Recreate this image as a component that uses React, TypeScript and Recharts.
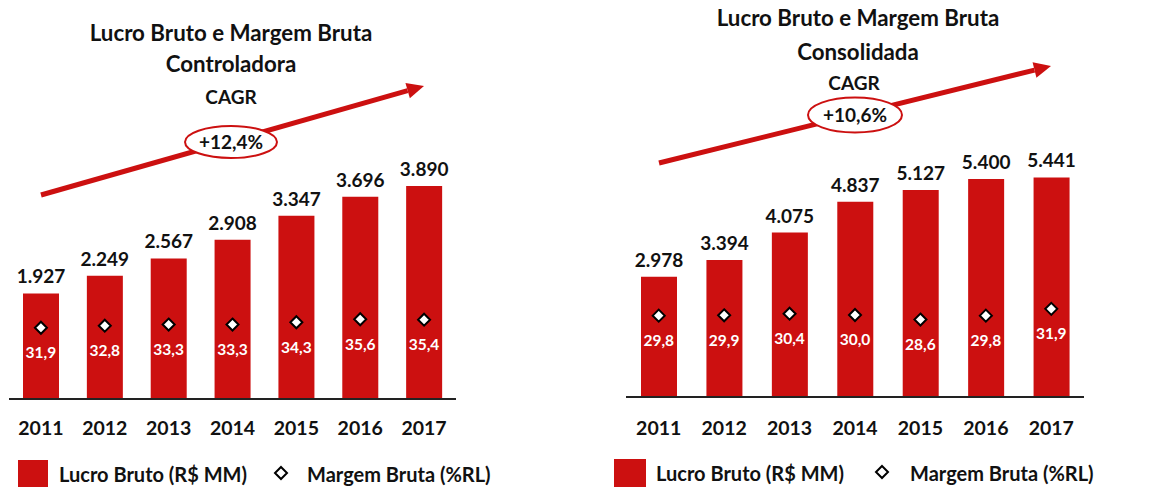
import React from "react";
import { ComposedChart, Bar, Line, XAxis, YAxis, LabelList } from "recharts";

const years = ["2011", "2012", "2013", "2014", "2015", "2016", "2017"];
const lucroControladora = [1927, 2249, 2567, 2908, 3347, 3696, 3890];
const margemControladora = [31.9, 32.8, 33.3, 33.3, 34.3, 35.6, 35.4];
const lucroConsolidada = [2978, 3394, 4075, 4837, 5127, 5400, 5441];
const margemConsolidada = [29.8, 29.9, 30.4, 30.0, 28.6, 29.8, 31.9];

const leftData = years.map((y, i) => ({ year: y, lucro: lucroControladora[i], margem: margemControladora[i] }));
const rightData = years.map((y, i) => ({ year: y, lucro: lucroConsolidada[i], margem: margemConsolidada[i] }));

const RED = "#CC1010";
const FONT = "Lato, 'Open Sans', sans-serif";

const fmtThousands = (v: number) => {
  const s = String(v);
  return s.length > 3 ? s.slice(0, s.length - 3) + "." + s.slice(s.length - 3) : s;
};
const fmtDec = (v: number) => v.toFixed(1).replace(".", ",");

const Diamond = (props: any) => {
  const { cx, cy } = props;
  if (cx == null || cy == null) return null;
  const r = 6;
  return (
    <polygon
      points={`${cx},${cy - r} ${cx + r},${cy} ${cx},${cy + r} ${cx - r},${cy}`}
      fill="#fff"
      stroke="#000"
      strokeWidth={2}
    />
  );
};

const MarginLabel = (props: any) => {
  const { x, y, value } = props;
  return (
    <text x={x} y={y + 25} dy="0.35em" textAnchor="middle" fill="#fff" fontFamily={FONT} fontWeight={700} fontSize={15.5}>
      {fmtDec(value)}
    </text>
  );
};

const YearTick = (props: any) => {
  const { x, y, payload } = props;
  return (
    <text x={x} y={y} dy="0.35em" textAnchor="middle" fill="#111" fontFamily={FONT} fontWeight={700} fontSize={19.5}>
      {payload.value}
    </text>
  );
};

type PanelProps = {
  data: any[];
  margin: any;
  barMax: number;
  marginDomain: [number, number];
  width: number;
  tickMargin: number;
};

const Panel = ({ data, margin, barMax, marginDomain, width, tickMargin }: PanelProps) => (
  <ComposedChart width={width} height={487} data={data} margin={margin}>
    <XAxis
      dataKey="year"
      height={40}
      axisLine={{ stroke: "#222", strokeWidth: 2 }}
      tickLine={false}
      tickSize={0}
      tickMargin={tickMargin}
      tick={<YearTick />}
      interval={0}
    />
    <YAxis yAxisId="bar" hide domain={[0, barMax]} />
    <YAxis yAxisId="m" hide domain={marginDomain} />
    <Bar yAxisId="bar" dataKey="lucro" fill={RED} barSize={36} isAnimationActive={false}>
      <LabelList
        dataKey="lucro"
        position="top"
        offset={10}
        formatter={(v: any) => fmtThousands(Number(v))}
        style={{ fill: "#111", fontFamily: FONT, fontWeight: 700, fontSize: 19 }}
      />
    </Bar>
    <Line
      yAxisId="m"
      dataKey="margem"
      stroke="none"
      strokeWidth={0}
      dot={<Diamond />}
      activeDot={false}
      isAnimationActive={false}
    >
      <LabelList dataKey="margem" content={<MarginLabel />} />
    </Line>
  </ComposedChart>
);

const ArrowAndTitle = ({
  from,
  tip,
  ellipse,
  pct,
  titleLines,
  titleX,
  titleYs,
  cagrX,
  cagrY,
}: any) => {
  const dx = tip[0] - from[0];
  const dy = tip[1] - from[1];
  const len = Math.sqrt(dx * dx + dy * dy);
  const ux = dx / len;
  const uy = dy / len;
  const hl = 17;
  const hw = 8;
  const bx = tip[0] - ux * hl;
  const by = tip[1] - uy * hl;
  const px = -uy;
  const py = ux;
  return (
    <g>
      {titleLines.map((t: string, i: number) => (
        <text key={i} x={titleX} y={titleYs[i]} dy="0.35em" textAnchor="middle" fill="#111" fontFamily={FONT} fontWeight={700} fontSize={22.3}>
          {t}
        </text>
      ))}
      <text x={cagrX} y={cagrY} dy="0.35em" textAnchor="middle" fill="#111" fontFamily={FONT} fontWeight={700} fontSize={19}>
        CAGR
      </text>
      <line x1={from[0]} y1={from[1]} x2={bx} y2={by} stroke={RED} strokeWidth={5} />
      <polygon
        points={`${tip[0]},${tip[1]} ${bx + px * hw},${by + py * hw} ${bx - px * hw},${by - py * hw}`}
        fill={RED}
      />
      <ellipse cx={ellipse[0]} cy={ellipse[1]} rx={ellipse[2]} ry={ellipse[3]} fill="#fff" stroke={RED} strokeWidth={2} />
      <text x={ellipse[0]} y={ellipse[1]} dy="0.35em" textAnchor="middle" fill="#111" fontFamily={FONT} fontWeight={700} fontSize={19}>
        {pct}
      </text>
    </g>
  );
};

const LegendRow = ({ rectX, rectY, rectW, rectH, text1X, textY, diaX, diaY, text2X }: any) => (
  <g>
    <rect x={rectX} y={rectY} width={rectW} height={rectH} fill={RED} />
    <text x={text1X} y={textY} dy="0.35em" fill="#111" fontFamily={FONT} fontWeight={700} fontSize={20}>
      Lucro Bruto (R$ MM)
    </text>
    <Diamond cx={diaX} cy={diaY} />
    <text x={text2X} y={textY} dy="0.35em" fill="#111" fontFamily={FONT} fontWeight={700} fontSize={20}>
      Margem Bruta (%RL)
    </text>
  </g>
);

export default function App() {
  return (
    <div style={{ position: "absolute", left: 0, top: 0, width: 1158, height: 487, background: "#fff", overflow: "hidden" }}>
      <div style={{ position: "absolute", left: 0, top: 0 }}>
        <Panel
          data={leftData}
          width={580}
          margin={{ top: 180, right: 124, bottom: 48, left: 9 }}
          barMax={4000}
          marginDomain={[1, 96]}
          tickMargin={29}
        />
      </div>
      <div style={{ position: "absolute", left: 580, top: 0 }}>
        <Panel
          data={rightData}
          width={578}
          margin={{ top: 175, right: 74, bottom: 50, left: 46 }}
          barMax={5500}
          marginDomain={[4.7, 73.2]}
          tickMargin={31}
        />
      </div>
      <svg width={1158} height={487} style={{ position: "absolute", left: 0, top: 0, pointerEvents: "none" }}>
        <ArrowAndTitle
          from={[41, 195]}
          tip={[424, 86]}
          ellipse={[231, 142, 46, 16]}
          pct="+12,4%"
          titleLines={["Lucro Bruto e Margem Bruta", "Controladora"]}
          titleX={231}
          titleYs={[33, 64]}
          cagrX={231}
          cagrY={97}
        />
        <ArrowAndTitle
          from={[659, 163]}
          tip={[1051, 66]}
          ellipse={[855, 115, 47, 17.5]}
          pct="+10,6%"
          titleLines={["Lucro Bruto e Margem Bruta", "Consolidada"]}
          titleX={858}
          titleYs={[18, 52]}
          cagrX={854}
          cagrY={83}
        />
        <LegendRow rectX={18} rectY={460} rectW={30} rectH={27} text1X={59} textY={475} diaX={281} diaY={473} text2X={307} />
        <LegendRow rectX={614} rectY={459} rectW={32} rectH={28} text1X={656} textY={474} diaX={882} diaY={472} text2X={910} />
      </svg>
    </div>
  );
}
